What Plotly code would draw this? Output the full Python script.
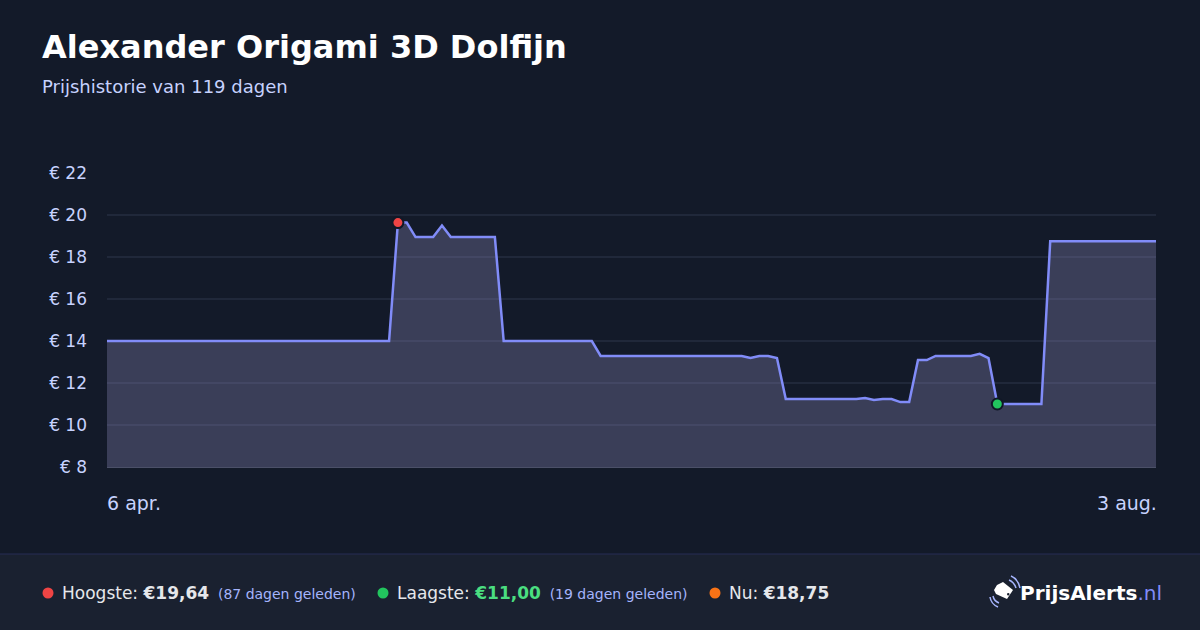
import plotly.graph_objects as go

# price history (only the days where the line changes direction)
dates = [
    "2025-04-06", "2025-05-08", "2025-05-09", "2025-05-10", "2025-05-11",
    "2025-05-13", "2025-05-14", "2025-05-15", "2025-05-20", "2025-05-21",
    "2025-05-31", "2025-06-01", "2025-06-17", "2025-06-18", "2025-06-19",
    "2025-06-20", "2025-06-21", "2025-06-22", "2025-06-30", "2025-07-01",
    "2025-07-02", "2025-07-03", "2025-07-04", "2025-07-05", "2025-07-06",
    "2025-07-07", "2025-07-08", "2025-07-09", "2025-07-13", "2025-07-14",
    "2025-07-15", "2025-07-16", "2025-07-21", "2025-07-22", "2025-08-03",
]
prices = [
    14.00, 14.00, 19.64, 19.64, 18.95,
    18.95, 19.50, 18.95, 18.95, 14.00,
    14.00, 13.29, 13.29, 13.19, 13.29,
    13.29, 13.19, 11.24, 11.24, 11.29,
    11.19, 11.24, 11.24, 11.09, 11.09,
    13.09, 13.09, 13.29, 13.29, 13.39,
    13.19, 11.00, 11.00, 18.75, 18.75,
]

high_date, high_price = "2025-05-09", 19.64
low_date, low_price = "2025-07-16", 11.00
y_ticks = [8, 10, 12, 14, 16, 18, 20, 22]
y_labels = [f"€ {v}" for v in y_ticks]
x_labels = ["6 apr.", "3 aug."]

title = "Alexander Origami 3D Dolfijn"
subtitle = "Prijshistorie van 119 dagen"

BG = "#131a29"
FOOTER_BG = "#1a2130"
LINE = "#818cf8"
LABEL = "#c7d2fe"
FONT = "DejaVu Sans"

W, H = 1200, 630
L, R, T, B = 107, 1156, 173, 467


def px(x):
    return (x - L) / (R - L)


def py(y):
    return (B - y) / (B - T)


fig = go.Figure()

fig.add_trace(go.Scatter(
    x=dates, y=prices, mode="lines",
    line=dict(color=LINE, width=2.5),
    fill="tozeroy", fillcolor="rgba(149,146,198,0.30)",
    hoverinfo="skip", showlegend=False,
))

# highest / lowest markers
fig.add_trace(go.Scatter(
    x=[high_date, low_date], y=[high_price, low_price], mode="markers",
    marker=dict(size=11, color=["#ef4444", "#22c55e"],
                line=dict(color="#111827", width=2)),
    hoverinfo="skip", showlegend=False,
))

shapes = []
annotations = []

# footer band
shapes.append(dict(type="rect", xref="paper", yref="paper", layer="below",
                   x0=px(0), x1=px(W), y0=py(H), y1=py(554),
                   fillcolor=FOOTER_BG, line_width=0))
shapes.append(dict(type="line", xref="paper", yref="paper",
                   x0=px(0), x1=px(W), y0=py(554), y1=py(554),
                   line=dict(color="#262d55", width=1)))

# title block
annotations.append(dict(text=f"<b>{title}</b>", x=px(40), y=py(47),
                        xanchor="left", yanchor="middle",
                        font=dict(size=32, color="white", family=FONT)))
annotations.append(dict(text=subtitle, x=px(40), y=py(87),
                        xanchor="left", yanchor="middle",
                        font=dict(size=18, color=LABEL, family=FONT)))

# x-axis end labels
annotations.append(dict(text=x_labels[0], x=px(105), y=py(503), xanchor="left",
                        yanchor="middle", font=dict(size=19, color=LABEL, family=FONT)))
annotations.append(dict(text=x_labels[1], x=px(1159), y=py(503), xanchor="right",
                        yanchor="middle", font=dict(size=19, color=LABEL, family=FONT)))

# footer stats
small = "<span style='font-size:14px;color:#a5b4fc'>"
stats = [
    (48, "#ef4444", f"Hoogste: <b>€19,64</b> \u2009{small}(87 dagen geleden)</span>"),
    (383, "#22c55e", f"Laagste: <b><span style='color:#4ade80'>€11,00</span></b> \u2009{small}(19 dagen geleden)</span>"),
    (715, "#f97316", "Nu: <b>€18,75</b>"),
]
r = 5.5
for cx, color, txt in stats:
    shapes.append(dict(type="circle", xref="paper", yref="paper",
                       x0=px(cx - r), x1=px(cx + r), y0=py(593 + r), y1=py(593 - r),
                       fillcolor=color, line_width=0))
    annotations.append(dict(text=txt, x=px(cx + 12), y=py(593), xanchor="left",
                            yanchor="middle",
                            font=dict(size=17, color="#e5e7eb", family=FONT)))

# logo
annotations.append(dict(text="<b>PrijsAlerts</b><span style='color:#818cf8'>.nl</span>",
                        x=px(1018), y=py(593), xanchor="left", yanchor="middle",
                        font=dict(size=20, color="white", family=FONT)))


def path(points, close=True):
    s = "M " + " L ".join(f"{px(a):.5f},{py(b):.5f}" for a, b in points)
    return s + (" Z" if close else "")


tag = [(997, 585), (1003, 582), (1013, 590), (1007, 599), (996, 594), (994, 590)]
shapes.append(dict(type="path", xref="paper", yref="paper", path=path(tag),
                   fillcolor="white", line_width=0))
shapes.append(dict(type="circle", xref="paper", yref="paper",
                   x0=px(1007), x1=px(1009.5), y0=py(595.5), y1=py(593),
                   fillcolor=FOOTER_BG, line_width=0))
for arc in ([(1009, 580), (1014, 582), (1016, 588)],
            [(1011, 576), (1018, 579), (1020, 588)],
            [(993, 596), (994, 601), (999, 603)],
            [(990, 597), (991, 604), (998, 607)]):
    (a0, b0), (a1, b1), (a2, b2) = arc
    shapes.append(dict(type="path", xref="paper", yref="paper",
                       path=f"M {px(a0):.5f},{py(b0):.5f} Q {px(a1):.5f},{py(b1):.5f} {px(a2):.5f},{py(b2):.5f}",
                       line=dict(color="#a5b4fc", width=1.5)))

fig.update_layout(
    width=W, height=H,
    margin=dict(l=L, r=W - R, t=T, b=H - B),
    paper_bgcolor=BG, plot_bgcolor=BG,
    shapes=shapes, annotations=annotations,
    showlegend=False,
    xaxis=dict(range=[dates[0], dates[-1]], showgrid=False, showticklabels=False,
               zeroline=False, showline=True, linecolor="#4b5068", linewidth=1,
               fixedrange=True),
    yaxis=dict(range=[8, 22], tickvals=y_ticks, ticktext=y_labels,
               tickfont=dict(size=17, color=LABEL, family=FONT),
               gridcolor="#20283a", gridwidth=1.5, zeroline=False,
               ticklabelstandoff=19, fixedrange=True),
)
for a in fig.layout.annotations:
    a.xref = "paper"
    a.yref = "paper"
    a.showarrow = False

fig.write_html("out.html", config={"displayModeBar": False},
               post_script="document.body.style.margin='0';")
